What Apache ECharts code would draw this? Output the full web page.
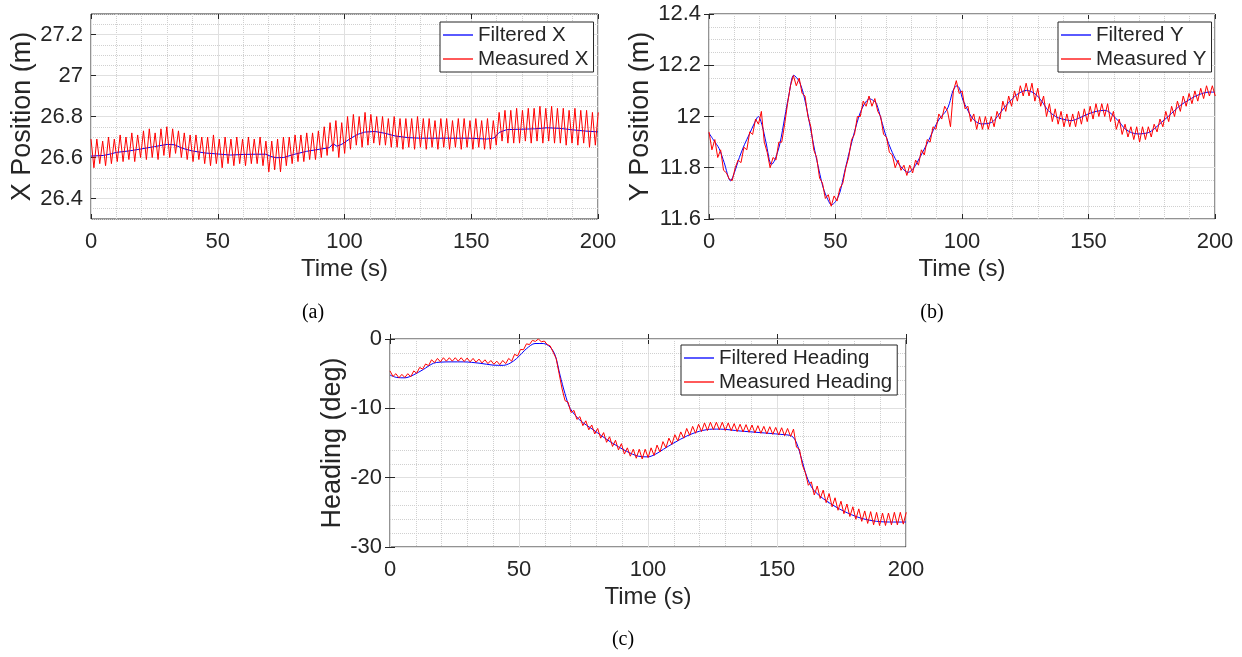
<!DOCTYPE html>
<html>
<head>
<meta charset="utf-8">
<title>Filtered vs measured position and heading</title>
<script src="https://cdn.jsdelivr.net/npm/echarts@6/dist/echarts.min.js"></script>
<style>
  html, body { margin: 0; padding: 0; background: #ffffff; }
  #chart { width: 1242px; height: 657px; }
</style>
</head>
<body>
<div id="chart"></div>
<script>
// ---- data ----------------------------------------------------------------
const timeTicks = [0, 50, 100, 150, 200];
const xPosTicks = [26.4, 26.6, 26.8, 27, 27.2];
const yPosTicks = [11.6, 11.8, 12, 12.2, 12.4];
const headingTicks = [-30, -20, -10, 0];

// measured signals are logged every 1.15 s (half the wave period)
const SAMPLE_STEP = 1.15;

const measuredX = [
  26.69,26.55,26.69,26.57,26.68,26.56,26.70,26.57,26.69,26.58,
  26.71,26.58,26.70,26.59,26.72,26.58,26.71,26.60,26.73,26.59,
  26.74,26.60,26.72,26.59,26.74,26.61,26.75,26.60,26.74,26.62,
  26.73,26.60,26.72,26.59,26.71,26.58,26.71,26.59,26.70,26.57,
  26.70,26.56,26.71,26.57,26.69,26.55,26.70,26.57,26.69,26.56,
  26.70,26.57,26.69,26.56,26.70,26.57,26.69,26.57,26.70,26.56,
  26.68,26.53,26.68,26.54,26.69,26.53,26.70,26.56,26.70,26.57,
  26.71,26.58,26.71,26.58,26.72,26.59,26.72,26.59,26.73,26.60,
  26.75,26.61,26.77,26.63,26.78,26.60,26.77,26.62,26.80,26.64,
  26.81,26.66,26.80,26.65,26.82,26.66,26.81,26.67,26.80,26.66,
  26.80,26.66,26.79,26.65,26.80,26.65,26.79,26.64,26.79,26.65,
  26.79,26.64,26.80,26.65,26.79,26.64,26.79,26.65,26.78,26.64,
  26.79,26.65,26.79,26.64,26.78,26.65,26.79,26.64,26.79,26.65,
  26.78,26.64,26.79,26.65,26.78,26.64,26.79,26.64,26.78,26.66,
  26.82,26.68,26.83,26.67,26.83,26.67,26.84,26.67,26.83,26.68,
  26.84,26.67,26.84,26.68,26.85,26.67,26.84,26.68,26.85,26.67,
  26.84,26.67,26.84,26.66,26.83,26.67,26.84,26.66,26.83,26.67,
  26.83,26.65,26.82,26.66,26.82
];
const filteredXTime = [
  0,5,8,10,15,20,25,30,33,36,40,45,50,55,60,65,69,71,73,76,
  80,85,90,94,95.5,97,99,102,105,108,112,116,120,125,130,140,150,156,159,161,
  164,170,175,180,185,190,195,200
];
const filteredX = [
  26.607,26.61,26.618,26.625,26.632,26.642,26.653,26.664,26.662,26.645,
  26.632,26.622,26.617,26.612,26.615,26.616,26.616,26.605,26.599,26.600,
  26.615,26.630,26.64,26.648,26.667,26.655,26.665,26.69,26.712,26.724,
  26.727,26.718,26.705,26.697,26.694,26.694,26.694,26.69,26.695,26.722,
  26.736,26.738,26.74,26.745,26.742,26.735,26.729,26.725
];

const measuredY = [
  11.94,11.87,11.91,11.84,11.87,11.79,11.78,11.755,11.75,11.80,
  11.83,11.82,11.88,11.87,11.94,11.93,11.99,11.97,12.02,11.90,
  11.86,11.80,11.84,11.83,11.90,11.90,11.97,12.05,12.12,12.16,
  12.12,12.15,12.09,12.08,12.00,11.96,11.87,11.84,11.76,11.74,
  11.68,11.695,11.65,11.69,11.67,11.72,11.74,11.80,11.84,11.91,
  11.93,12.00,12.00,12.06,12.04,12.08,12.04,12.07,12.02,12.00,
  11.93,11.92,11.86,11.85,11.80,11.83,11.79,11.81,11.77,11.81,
  11.78,11.83,11.81,11.87,11.85,11.91,11.90,11.96,11.95,12.01,
  11.99,12.04,12.02,11.96,12.10,12.14,12.09,12.10,12.03,12.04,
  11.98,12.01,11.95,12.00,11.95,12.00,11.95,12.00,11.96,12.02,
  11.99,12.06,12.02,12.08,12.04,12.10,12.06,12.12,12.08,12.13,
  12.08,12.13,12.06,12.11,12.04,12.08,12.00,12.05,11.98,12.03,
  11.97,12.02,11.96,12.01,11.96,12.01,11.96,12.02,11.97,12.03,
  11.98,12.04,11.99,12.05,12.00,12.05,12.00,12.05,11.98,12.02,
  11.95,11.99,11.93,11.97,11.92,11.96,11.91,11.96,11.90,11.96,
  11.91,11.96,11.92,11.97,11.94,11.99,11.96,12.02,11.98,12.04,
  12.00,12.06,12.02,12.08,12.04,12.09,12.05,12.10,12.06,12.11,
  12.07,12.12,12.08,12.12,12.08
];
const filteredYTime = [
  0,2,4,6,8.5,10,12,14,16,18,19.5,21,22.5,24.7,26,28,30,31.5,33.5,35.5,
  37,38.5,40,41.8,43.5,45.1,47,48.4,50,51.7,53.5,55.6,57.5,59.6,61.5,63.5,65,66.2,68,70.1,
  72,74.1,76.5,78.7,81,83.3,86,88.6,91,93.9,95,96.5,98,99,100.4,102,103.8,105.5,107.7,111.7,
  114,116.9,119.5,122.2,125.5,128.8,131.5,134,137,139.3,143.3,146.5,149.9,153,156.5,158.5,160.4,162.5,164.4,167,
  169.6,173.6,176,178.9,181.5,184.1,186.5,189.4,192,194.7,197.5,200
];
const filteredY = [
  11.935,11.905,11.875,11.82,11.749,11.78,11.84,11.89,11.932,11.975,
  12.0,11.965,11.90,11.812,11.83,11.893,12.0,12.08,12.161,12.14,
  12.10,12.037,11.96,11.867,11.79,11.723,11.675,11.655,11.668,11.703,
  11.78,11.867,11.94,12.01,12.05,12.069,12.062,12.05,11.99,11.919,
  11.87,11.827,11.797,11.782,11.80,11.84,11.89,11.945,11.99,12.024,
  12.05,12.102,12.12,12.11,12.063,12.03,11.997,11.98,11.971,11.977,
  12.0,12.037,12.065,12.089,12.102,12.089,12.06,12.024,12.0,11.991,
  11.984,11.995,12.01,12.02,12.024,12.015,11.997,11.975,11.952,11.937,
  11.932,11.937,11.952,11.978,12.0,12.024,12.045,12.063,12.078,12.089,
  12.095,12.095
];

const measuredHeading = [
  -4.6,-5.4,-5.0,-5.6,-5.1,-5.55,-5.0,-5.45,-4.6,-4.95,
  -4.1,-4.35,-3.6,-3.85,-3.0,-3.4,-2.8,-3.3,-2.7,-3.2,
  -2.7,-3.2,-2.7,-3.2,-2.7,-3.25,-2.75,-3.3,-2.8,-3.35,
  -2.9,-3.45,-3.0,-3.55,-3.1,-3.65,-3.2,-3.7,-3.1,-3.55,
  -2.8,-3.2,-2.2,-2.45,-1.5,-1.55,-0.7,-0.8,-0.2,-0.35,
  0.0,-0.4,-0.3,-0.8,-1.0,-1.9,-2.8,-5.0,-7.2,-8.9,
  -9.1,-10.6,-10.3,-11.6,-11.2,-12.5,-11.8,-13.1,-12.4,-13.7,
  -12.9,-14.3,-13.5,-14.9,-14.1,-15.5,-14.6,-16.0,-15.1,-16.6,
  -15.7,-16.9,-15.9,-17.2,-15.9,-17.3,-15.9,-17.1,-15.7,-16.8,
  -15.3,-16.3,-14.8,-15.7,-14.3,-15.2,-13.8,-14.7,-13.4,-14.3,
  -12.9,-13.9,-12.6,-13.6,-12.3,-13.35,-12.1,-13.2,-12.0,-13.1,
  -12.0,-13.1,-12.0,-13.2,-12.1,-13.25,-12.2,-13.35,-12.3,-13.4,
  -12.35,-13.45,-12.4,-13.55,-12.5,-13.6,-12.6,-13.7,-12.65,-13.75,
  -12.75,-13.85,-12.8,-13.95,-12.9,-14.05,-13.0,-15.6,-15.9,-18.2,
  -19.3,-21.1,-20.6,-22.5,-21.2,-23.0,-21.8,-23.6,-22.3,-24.2,
  -22.9,-24.7,-23.4,-25.2,-23.8,-25.6,-24.2,-26.0,-24.5,-26.3,
  -24.8,-26.6,-24.9,-26.8,-25.0,-26.9,-25.1,-26.9,-25.1,-26.8,
  -25.0,-26.8,-25.0,-26.7,-25.0
];
const filteredHeadingTime = [
  0,2.6,5.8,9,12.9,16.8,19.4,24,28.4,34.9,40,43.9,46.5,49.1,53,56.2,59.4,62,64,65.9,
  67.8,69.8,73.6,78.8,85.3,91.7,96.2,100,103,106,110,115,120,125,128,135.7,143.4,151.2,155.7,157.6,
  159.6,161.5,164.1,169.3,175.7,182.2,188.6,195.1,200
];
const filteredHeading = [
  -5.2,-5.55,-5.6,-5.2,-4.4,-3.5,-3.34,-3.3,-3.3,-3.5,
  -3.77,-3.8,-3.5,-2.81,-1.37,-0.65,-0.65,-1.13,-2.33,-5.2,
  -7.85,-10.0,-11.7,-13.1,-14.8,-16.2,-16.9,-17.0,-16.6,-15.9,
  -15.0,-14.0,-13.3,-13.0,-13.0,-13.27,-13.5,-13.75,-14.0,-15.0,
  -17.4,-19.8,-21.75,-23.4,-24.8,-25.8,-26.3,-26.4,-26.4
];

// ---- helpers -------------------------------------------------------------
const FONT = '"Liberation Sans", Arial, Helvetica, sans-serif';
const INK = '#262626';
const MAJOR_GRID = '#e0e0e0';
const MINOR_GRID = '#d0d0d0';
const BLUE = '#0000ff';
const RED = '#ff0000';

const pairs = (times, values) => values.map((v, i) => [times[i], v]);
const sampled = values => values.map((v, i) => [Math.round(i * SAMPLE_STEP * 100) / 100, v]);

function timeAxes(gridIndex) {
  return [
    {
      type: 'value', gridIndex, position: 'bottom',
      min: timeTicks[0], max: timeTicks[timeTicks.length - 1], interval: timeTicks[1] - timeTicks[0],
      name: 'Time (s)', nameLocation: 'middle', nameGap: 38,
      nameTextStyle: { fontFamily: FONT, fontSize: 24, color: INK },
      axisLine: { show: false },
      axisTick: { show: true, inside: true, length: 5, lineStyle: { color: INK } },
      axisLabel: { fontFamily: FONT, fontSize: 22, color: INK, margin: 12 },
      splitLine: { show: true, lineStyle: { color: MAJOR_GRID, width: 1 } },
      minorTick: { show: false, splitNumber: 5 },
      minorSplitLine: { show: true, lineStyle: { color: MINOR_GRID, type: 'dotted', width: 1 } }
    },
    {
      type: 'value', gridIndex, position: 'top',
      min: timeTicks[0], max: timeTicks[timeTicks.length - 1], interval: timeTicks[1] - timeTicks[0],
      axisLine: { show: false },
      axisTick: { show: true, inside: true, length: 5, lineStyle: { color: INK } },
      axisLabel: { show: false }, splitLine: { show: false }
    }
  ];
}

function valueAxes(gridIndex, cfg) {
  const main = {
    type: 'value', gridIndex, position: 'left', min: cfg.min, max: cfg.max,
    name: cfg.name, nameLocation: 'middle', nameGap: cfg.nameGap,
    nameTextStyle: { fontFamily: FONT, fontSize: 27, color: INK },
    axisLine: { show: false },
    axisTick: { show: true, inside: true, length: 5, lineStyle: { color: INK } },
    axisLabel: { fontFamily: FONT, fontSize: 22, color: INK, margin: 8 },
    splitLine: { show: true, lineStyle: { color: MAJOR_GRID, width: 1 } },
    z: 2
  };
  const mirror = {
    type: 'value', gridIndex, position: 'right', min: cfg.min, max: cfg.max,
    axisLine: { show: false },
    axisTick: { show: true, inside: true, length: 5, lineStyle: { color: INK } },
    axisLabel: { show: false }, splitLine: { show: false }
  };
  if (cfg.interval !== undefined) {
    main.interval = mirror.interval = cfg.interval;
    main.minorTick = { show: false, splitNumber: cfg.minorSplit };
    main.minorSplitLine = { show: true, lineStyle: { color: MINOR_GRID, type: 'dotted', width: 1 } };
    return [main, mirror];
  }
  // ticks that do not start at the axis minimum
  main.axisTick.customValues = cfg.ticks;
  main.axisLabel.customValues = cfg.ticks;
  main.splitNumber = 5;
  mirror.axisTick.customValues = cfg.ticks;
  mirror.splitNumber = 5;
  const minor = {
    type: 'value', gridIndex, position: 'left', min: cfg.min, max: cfg.max, interval: cfg.minorStep,
    axisLine: { show: false }, axisTick: { show: false }, axisLabel: { show: false },
    splitLine: { show: true, lineStyle: { color: MINOR_GRID, type: 'dotted', width: 1 } },
    z: 0
  };
  return [minor, main, mirror];
}

function line(name, xi, yi, data, color, z, smooth) {
  return {
    name, type: 'line', xAxisIndex: xi, yAxisIndex: yi, data,
    symbol: 'none', smooth: smooth || false, z,
    lineStyle: { color, width: 1 }, itemStyle: { color },
    emphasis: { disabled: true }
  };
}

function legendBox(names, left, top) {
  return {
    data: names, orient: 'vertical', left, top,
    icon: 'rect', itemWidth: 30, itemHeight: 1.3, itemGap: 2,
    padding: [2, 5, 2, 3],
    backgroundColor: '#ffffff', borderColor: INK, borderWidth: 1, borderRadius: 0,
    textStyle: { fontFamily: FONT, fontSize: 20.5, color: INK, lineHeight: 22 },
    selectedMode: false
  };
}

function caption(text, x, y) {
  return {
    type: 'text', x, y,
    style: { text, font: '20px "Liberation Serif", "Times New Roman", serif', fill: '#000',
             textAlign: 'center', textVerticalAlign: 'middle' }
  };
}

// ---- chart ---------------------------------------------------------------
const chart = echarts.init(document.getElementById('chart'), null, { renderer: 'canvas' });

const option = {
  animation: false,
  backgroundColor: '#ffffff',
  grid: [
    { left: 91, top: 14, width: 507, height: 205 },
    { left: 709, top: 14, width: 506, height: 205 },
    { left: 390, top: 339, width: 516, height: 208 }
  ].map(g => Object.assign(g, { show: true, borderColor: INK, borderWidth: 1, backgroundColor: '#ffffff', containLabel: false })),
  xAxis: [...timeAxes(0), ...timeAxes(1), ...timeAxes(2)],
  yAxis: [
    ...valueAxes(0, { min: 26.3, max: 27.3, ticks: xPosTicks, minorStep: 0.05, name: 'X Position (m)', nameGap: 45 }),
    ...valueAxes(1, { min: yPosTicks[0], max: yPosTicks[yPosTicks.length - 1], interval: 0.2, minorSplit: 4, name: 'Y Position (m)', nameGap: 49 }),
    ...valueAxes(2, { min: headingTicks[0], max: headingTicks[headingTicks.length - 1], interval: 10, minorSplit: 5, name: 'Heading (deg)', nameGap: 44 })
  ],
  legend: [
    legendBox(['Filtered X', 'Measured X'], 440, 22),
    legendBox(['Filtered Y', 'Measured Y'], 1058, 22),
    legendBox(['Filtered Heading', 'Measured Heading'], 681, 345)
  ],
  series: [
    line('Filtered X', 0, 1, pairs(filteredXTime, filteredX), BLUE, 2, false),
    line('Measured X', 0, 1, sampled(measuredX), RED, 3, false),
    line('Filtered Y', 2, 3, pairs(filteredYTime, filteredY), BLUE, 2, 0.3),
    line('Measured Y', 2, 3, sampled(measuredY), RED, 3, false),
    line('Filtered Heading', 4, 5, pairs(filteredHeadingTime, filteredHeading), BLUE, 2, 0.3),
    line('Measured Heading', 4, 5, sampled(measuredHeading), RED, 3, false)
  ],
  graphic: [
    caption('(a)', 313, 313),
    caption('(b)', 932, 313),
    caption('(c)', 623, 640)
  ]
};

chart.setOption(option);
</script>
</body>
</html>
